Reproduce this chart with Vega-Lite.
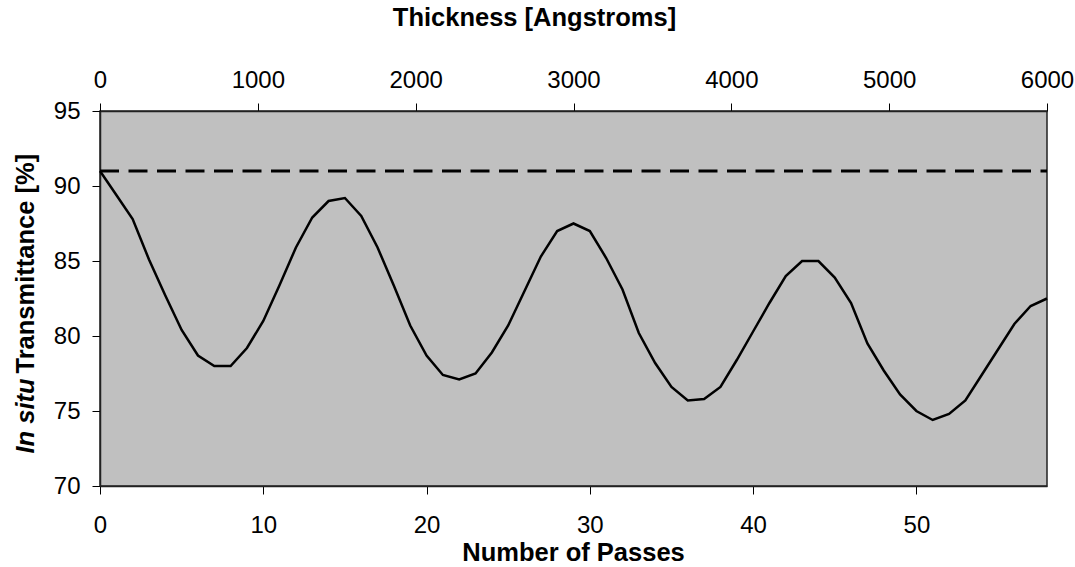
{
  "$schema": "https://vega.github.io/schema/vega-lite/v6.json",
  "width": 947,
  "height": 375,
  "autosize": "none",
  "padding": {"left": 100, "top": 111, "right": 28, "bottom": 81},
  "background": "white",
  "config": {
    "view": {"fill": "#c0c0c0", "stroke": "#222222", "strokeWidth": 1.5},
    "axis": {
      "grid": false,
      "labelFont": "Liberation Sans",
      "labelFontSize": 24,
      "labelColor": "black",
      "labelFlush": false,
      "labelOverlap": false,
      "labelBound": false,
      "format": "d",
      "titleFont": "Liberation Sans",
      "titleFontSize": 25.5,
      "titleFontWeight": "bold",
      "titleColor": "black",
      "domainColor": "#222222",
      "domainWidth": 1.5,
      "tickColor": "black",
      "tickSize": 8,
      "tickWidth": 1
    }
  },
  "layer": [
    {
      "data": {
        "values": [
          {"passes": 0, "transmittance": 91.0},
          {"passes": 1, "transmittance": 89.4},
          {"passes": 2, "transmittance": 87.8},
          {"passes": 3, "transmittance": 85.1},
          {"passes": 4, "transmittance": 82.7},
          {"passes": 5, "transmittance": 80.4},
          {"passes": 6, "transmittance": 78.7},
          {"passes": 7, "transmittance": 78.0},
          {"passes": 8, "transmittance": 78.0},
          {"passes": 9, "transmittance": 79.2},
          {"passes": 10, "transmittance": 81.0},
          {"passes": 11, "transmittance": 83.4},
          {"passes": 12, "transmittance": 85.9},
          {"passes": 13, "transmittance": 87.9},
          {"passes": 14, "transmittance": 89.0},
          {"passes": 15, "transmittance": 89.2},
          {"passes": 16, "transmittance": 88.0},
          {"passes": 17, "transmittance": 85.9},
          {"passes": 18, "transmittance": 83.35},
          {"passes": 19, "transmittance": 80.7},
          {"passes": 20, "transmittance": 78.7},
          {"passes": 21, "transmittance": 77.4},
          {"passes": 22, "transmittance": 77.1},
          {"passes": 23, "transmittance": 77.5},
          {"passes": 24, "transmittance": 78.9},
          {"passes": 25, "transmittance": 80.7},
          {"passes": 26, "transmittance": 83.0},
          {"passes": 27, "transmittance": 85.3},
          {"passes": 28, "transmittance": 87.0},
          {"passes": 29, "transmittance": 87.5},
          {"passes": 30, "transmittance": 87.0},
          {"passes": 31, "transmittance": 85.2},
          {"passes": 32, "transmittance": 83.1},
          {"passes": 33, "transmittance": 80.2},
          {"passes": 34, "transmittance": 78.2},
          {"passes": 35, "transmittance": 76.6},
          {"passes": 36, "transmittance": 75.7},
          {"passes": 37, "transmittance": 75.8},
          {"passes": 38, "transmittance": 76.6},
          {"passes": 39, "transmittance": 78.4},
          {"passes": 40, "transmittance": 80.3},
          {"passes": 41, "transmittance": 82.2},
          {"passes": 42, "transmittance": 84.0},
          {"passes": 43, "transmittance": 85.0},
          {"passes": 44, "transmittance": 85.0},
          {"passes": 45, "transmittance": 83.9},
          {"passes": 46, "transmittance": 82.2},
          {"passes": 47, "transmittance": 79.5},
          {"passes": 48, "transmittance": 77.7},
          {"passes": 49, "transmittance": 76.1},
          {"passes": 50, "transmittance": 75.0},
          {"passes": 51, "transmittance": 74.4},
          {"passes": 52, "transmittance": 74.8},
          {"passes": 53, "transmittance": 75.7},
          {"passes": 54, "transmittance": 77.4},
          {"passes": 55, "transmittance": 79.1},
          {"passes": 56, "transmittance": 80.8},
          {"passes": 57, "transmittance": 82.0},
          {"passes": 58, "transmittance": 82.5}
        ]
      },
      "mark": {"type": "line", "color": "black", "strokeWidth": 2.5},
      "encoding": {
        "x": {
          "field": "passes",
          "type": "quantitative",
          "scale": {"domain": [0, 58], "nice": false, "zero": false},
          "axis": {
            "orient": "bottom",
            "values": [0, 10, 20, 30, 40, 50],
            "labelPadding": 19,
            "title": "Number of Passes",
            "titleX": 473,
            "titleY": 74,
            "titleAlign": "center",
            "titleBaseline": "alphabetic"
          }
        },
        "y": {
          "field": "transmittance",
          "type": "quantitative",
          "scale": {"domain": [70, 95], "nice": false, "zero": false},
          "axis": {
            "orient": "left",
            "values": [70, 75, 80, 85, 90, 95],
            "labelPadding": 12,
            "title": "Transmittance [%]",
            "titleAngle": -90,
            "titleX": -67,
            "titleY": 262,
            "titleAlign": "left",
            "titleBaseline": "alphabetic"
          }
        }
      }
    },
    {
      "data": {"values": [{"substrate": 91.0}]},
      "mark": {"type": "rule", "color": "black", "strokeWidth": 3, "strokeDash": [19, 9.5]},
      "encoding": {
        "x": {
          "datum": 0,
          "type": "quantitative",
          "scale": {"domain": [0, 6000], "nice": false, "zero": false},
          "axis": {
            "orient": "top",
            "values": [0, 1000, 2000, 3000, 4000, 5000, 6000],
            "labelPadding": 11,
            "title": "Thickness [Angstroms]",
            "titleX": 434,
            "titleY": -86,
            "titleAlign": "center",
            "titleBaseline": "alphabetic"
          }
        },
        "x2": {"datum": 6000},
        "y": {
          "field": "substrate",
          "type": "quantitative",
          "scale": {"domain": [70, 95], "nice": false, "zero": false},
          "axis": {
            "orient": "left",
            "labels": false,
            "ticks": false,
            "domain": false,
            "title": "In situ",
            "titleFontStyle": "italic",
            "titleAngle": -90,
            "titleX": -67,
            "titleY": 342,
            "titleAlign": "left",
            "titleBaseline": "alphabetic"
          }
        }
      }
    }
  ],
  "resolve": {
    "scale": {"x": "independent"},
    "axis": {"x": "independent", "y": "independent"}
  }
}
